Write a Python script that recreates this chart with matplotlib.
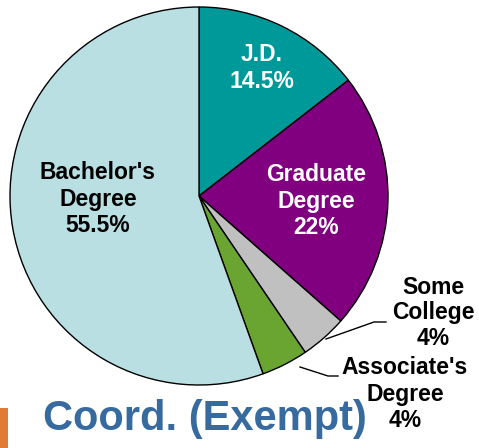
import matplotlib.pyplot as plt
from matplotlib.patches import Rectangle

# slice data, clockwise from 12 o'clock
categories = ["J.D.", "Graduate\nDegree", "Some\nCollege", "Associate's\nDegree", "Bachelor's\nDegree"]
shares = [14.5, 22, 4, 4, 55.5]
share_text = ["14.5%", "22%", "4%", "4%", "55.5%"]
colors = ["#009999", "#800080", "#C0C0C0", "#6AA431", "#BADFE3"]

plt.rcParams['font.family'] = ['Liberation Sans', 'DejaVu Sans']

fig = plt.figure(figsize=(4.79, 4.48), dpi=100)
ax = fig.add_axes([0, 0, 1, 1])

H = 448
cx, cy, r = 199, H - 196, 189

ax.pie(shares, colors=colors, startangle=90, counterclock=False,
       center=(cx, cy), radius=r, frame=True,
       wedgeprops=dict(edgecolor='black', linewidth=1))
ax.set_xlim(0, 479)
ax.set_ylim(0, 448)
ax.set_aspect('equal')
ax.axis('off')

fs = 16.5
# labels inside
ax.text(262, H - 68, categories[0] + "\n" + share_text[0], color='white',
        fontsize=fs, fontweight='bold', ha='center', va='center', linespacing=1.2)
ax.text(316, H - 201, categories[1] + "\n" + share_text[1], color='white',
        fontsize=fs, fontweight='bold', ha='center', va='center', linespacing=1.2)
ax.text(98, H - 199, categories[4] + "\n" + share_text[4], color='black',
        fontsize=fs, fontweight='bold', ha='center', va='center', linespacing=1.2)

# outside labels with leader lines
ax.text(433, H - 313, categories[2] + "\n" + share_text[2], color='black',
        fontsize=fs, fontweight='bold', ha='center', va='center', linespacing=1.15)
ax.plot([326, 374, 386], [H - 339, H - 322, H - 322], color='black', lw=1)

ax.text(405, H - 394, categories[3] + "\n" + share_text[3], color='black',
        fontsize=fs, fontweight='bold', ha='center', va='center', linespacing=1.2)
ax.plot([300, 328, 338], [H - 367, H - 376, H - 376], color='black', lw=1)

# title at bottom
ax.text(205, H - 419, "Coord. (Exempt)", color='#376A9E', fontsize=30,
        fontweight='bold', ha='center', va='center')
ax.add_patch(Rectangle((0, 0), 8, 40, color='#E07A35', lw=0))

fig.savefig("out.png", dpi=100)
